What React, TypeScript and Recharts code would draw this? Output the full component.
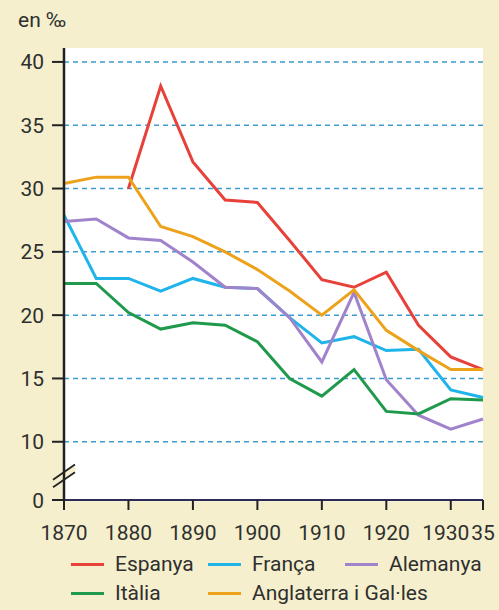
import { LineChart, Line, XAxis, YAxis, CartesianGrid, ReferenceLine } from "recharts";

const YEARS = [1870, 1875, 1880, 1885, 1890, 1895, 1900, 1905, 1910, 1915, 1920, 1925, 1930, 1935];
const ESPANYA = [null, null, 30.0, 38.1, 32.1, 29.1, 28.9, 25.9, 22.8, 22.2, 23.4, 19.2, 16.7, 15.7];
const FRANCA = [27.9, 22.9, 22.9, 21.9, 22.9, 22.2, 22.1, 19.8, 17.8, 18.3, 17.2, 17.3, 14.1, 13.5];
const ALEMANYA = [27.4, 27.6, 26.1, 25.9, 24.2, 22.2, 22.1, 19.8, 16.3, 21.8, 14.9, 12.1, 11.0, 11.8];
const ITALIA = [22.5, 22.5, 20.2, 18.9, 19.4, 19.2, 17.9, 15.0, 13.6, 15.7, 12.4, 12.2, 13.4, 13.3];
const ANGLATERRA = [30.4, 30.9, 30.9, 27.0, 26.2, 25.0, 23.6, 21.9, 20.0, 22.0, 18.8, 17.2, 15.7, 15.7];

const X_TICKS = [1870, 1880, 1890, 1900, 1910, 1920, 1930, 1935];
const Y_TICKS = [5.4, 10, 15, 20, 25, 30, 35, 40];
const GRID = [10, 15, 20, 25, 30, 35, 40];

const SERIES = [
  { key: "espanya", name: "Espanya", color: "#e8413a", values: ESPANYA },
  { key: "franca", name: "França", color: "#1fb4ea", values: FRANCA },
  { key: "alemanya", name: "Alemanya", color: "#a183cc", values: ALEMANYA },
  { key: "italia", name: "Itàlia", color: "#1f9a4c", values: ITALIA },
  { key: "anglaterra", name: "Anglaterra i Gal·les", color: "#eda21c", values: ANGLATERRA },
];

const data = YEARS.map((year, i) => {
  const row: Record<string, number | null> = { year };
  SERIES.forEach(s => { row[s.key] = s.values[i]; });
  return row;
});

const TEXT = "#2f2f2f";
const BG = "#f5efcd";
const FONT = "Roboto, 'Open Sans', sans-serif";

const XTick = (props: any) => {
  const { x, y, payload } = props;
  const v = payload.value;
  // 1930 is nudged left so it doesn't run into "35"
  return (
    <text x={x} y={y + 26} dx={v === 1930 ? -5 : 0} textAnchor="middle" fill={TEXT} fontSize={21} fontFamily={FONT}>
      {v === 1935 ? "35" : v}
    </text>
  );
};

const YTick = (props: any) => {
  const { x, y, payload } = props;
  const v = payload.value;
  return (
    <text x={x} y={y + 7.5} textAnchor="end" fill={TEXT} fontSize={21} fontFamily={FONT}>
      {v < 10 ? "0" : v}
    </text>
  );
};

export default function App() {
  return (
    <div
      style={{
        position: "fixed", top: 0, left: 0, width: 499, height: 610,
        background: BG, fontFamily: FONT, color: TEXT,
      }}
    >
      <div style={{ position: "absolute", left: 18, top: 6, fontSize: 21, lineHeight: "28px" }}>en ‰</div>

      <LineChart width={499} height={545} data={data} margin={{ top: 48, right: 16, left: 0, bottom: 0 }}>
        <CartesianGrid horizontal={false} vertical={false} fill="#ffffff" />
        {GRID.map(v => (
          <ReferenceLine key={v} y={v} stroke="#3d9bd0" strokeWidth={1.5} strokeDasharray="5 4" />
        ))}
        <XAxis
          dataKey="year"
          type="number"
          domain={[1870, 1935]}
          ticks={X_TICKS}
          interval={0}
          tick={XTick}
          tickSize={10}
          tickMargin={4}
          height={45}
          axisLine={{ stroke: "#2b2c5a", strokeWidth: 2 }}
          tickLine={{ stroke: "#222", strokeWidth: 2 }}
        />
        <YAxis
          type="number"
          domain={[5.4, 41.1]}
          ticks={Y_TICKS}
          interval={0}
          allowDataOverflow
          tick={YTick}
          tickSize={12}
          tickMargin={8}
          width={64}
          axisLine={{ stroke: "#222", strokeWidth: 2.5 }}
          tickLine={{ stroke: "#222", strokeWidth: 2 }}
        />
        {/* axis break marks */}
        <ReferenceLine
          segment={[{ x: 1868.3, y: 6.75 }, { x: 1871.7, y: 7.95 }]}
          stroke={BG}
          strokeWidth={5}
          ifOverflow="visible"
        />
        <ReferenceLine
          segment={[{ x: 1868.3, y: 6.4 }, { x: 1871.7, y: 7.6 }]}
          stroke="#222"
          strokeWidth={1.8}
          ifOverflow="visible"
        />
        <ReferenceLine
          segment={[{ x: 1868.3, y: 7.0 }, { x: 1871.7, y: 8.2 }]}
          stroke="#222"
          strokeWidth={1.8}
          ifOverflow="visible"
        />
        {SERIES.map(s => (
          <Line
            key={s.key}
            type="linear"
            dataKey={s.key}
            stroke={s.color}
            strokeWidth={3}
            dot={false}
            isAnimationActive={false}
          />
        ))}
      </LineChart>

      <div style={{ position: "absolute", left: 71, top: 550, fontSize: 21, lineHeight: "29px" }}>
        {[SERIES.slice(0, 3), SERIES.slice(3)].map((row, r) => (
          <div key={r} style={{ display: "flex", height: 29 }}>
            {row.map(s => (
              <div key={s.key} style={{ display: "flex", alignItems: "center", width: 137, flexShrink: 0 }}>
                <span style={{ display: "inline-block", flexShrink: 0, width: 33, height: 3, background: s.color, marginRight: 11 }} />
                <span style={{ whiteSpace: "nowrap" }}>{s.name}</span>
              </div>
            ))}
          </div>
        ))}
      </div>
    </div>
  );
}
